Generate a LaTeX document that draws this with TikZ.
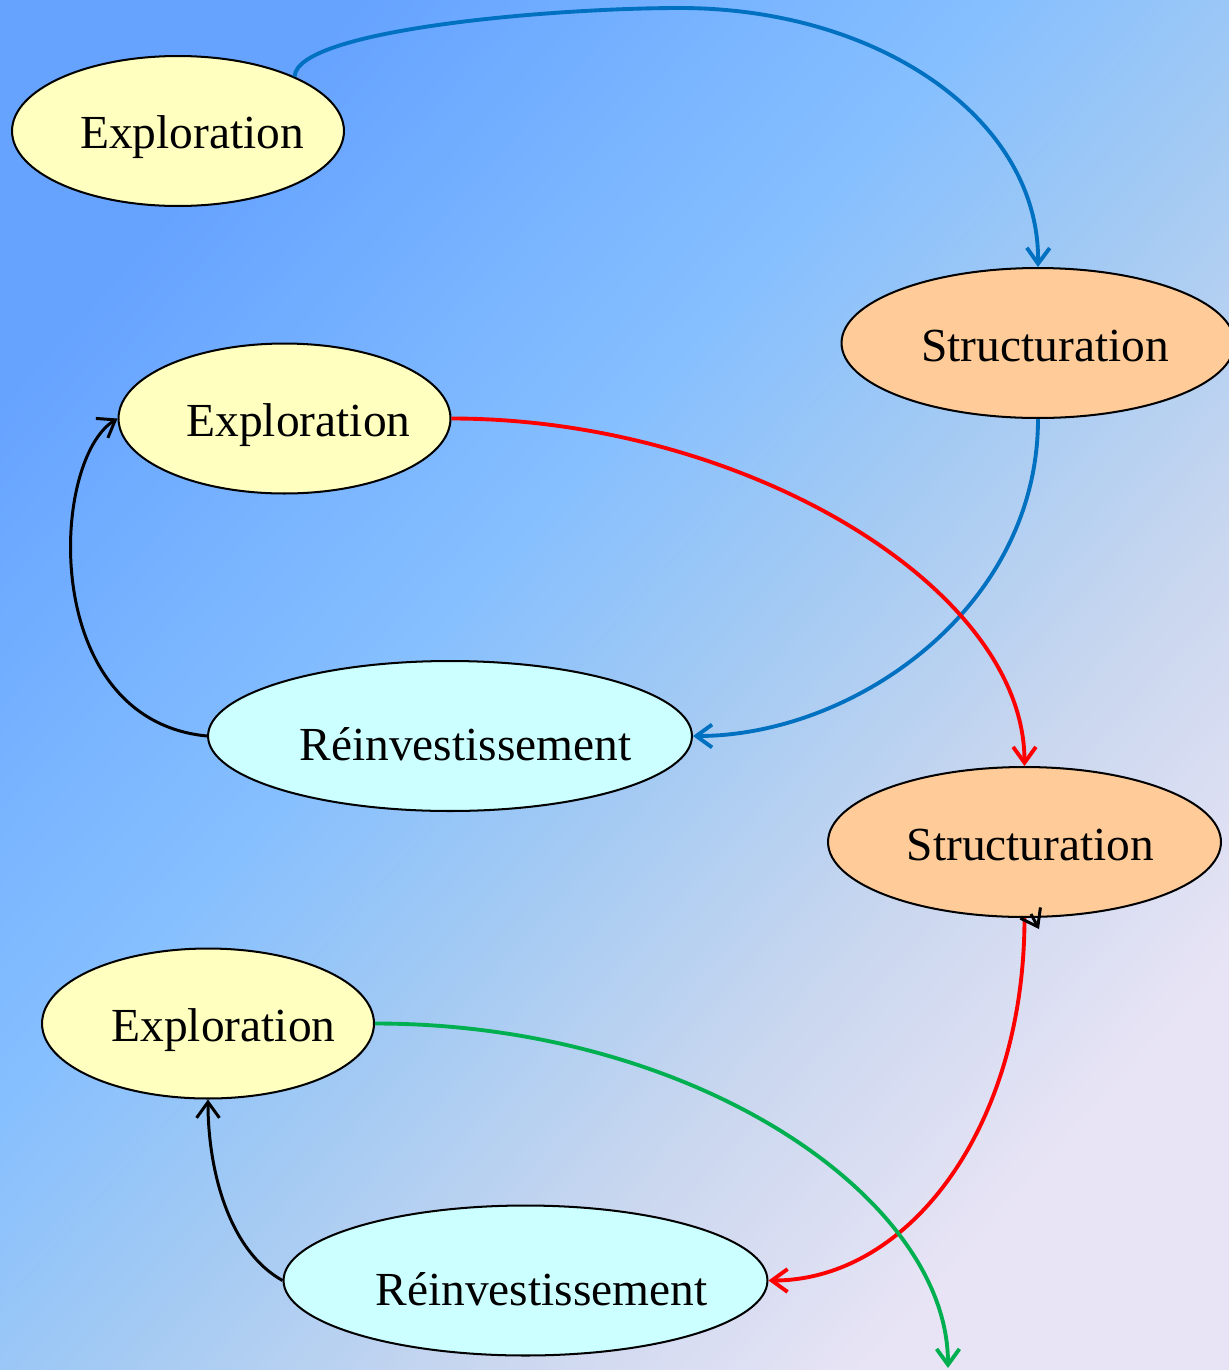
\documentclass[tikz,border=0pt]{standalone}
\usepackage{fontspec}
\setmainfont{Liberation Serif}
\usetikzlibrary{arrows.meta,shapes.geometric}
\definecolor{bgA}{HTML}{66A3FF}
\definecolor{bgB}{HTML}{85BFFF}
\definecolor{bgC}{HTML}{A0C9F4}
\definecolor{bgE}{HTML}{CAD7EF}
\definecolor{bgD}{HTML}{E8E4F5}
\definecolor{explfill}{HTML}{FFFFC0}
\definecolor{strufill}{HTML}{FFCC99}
\definecolor{reinfill}{HTML}{CCFFFF}
\definecolor{cblue}{HTML}{0070C0}
\definecolor{cred}{HTML}{FF0000}
\definecolor{cgreen}{HTML}{00B050}
\pgfdeclarehorizontalshading{bgshade}{100bp}{color(0bp)=(bgA); color(25bp)=(bgA); color(43bp)=(bgB); color(52bp)=(bgC); color(64bp)=(bgE); color(75bp)=(bgD); color(100bp)=(bgD)}
\begin{document}
\begin{tikzpicture}[x=0.02cm,y=-0.02cm,
  oval/.style={ellipse, draw=black, line width=1.15pt, inner sep=0pt, minimum height=3cm},
  expl/.style={oval, fill=explfill, minimum width=6.64cm},
  stru/.style={oval, fill=strufill, minimum width=7.86cm},
  rein/.style={oval, fill=reinfill, minimum width=9.68cm},
  lbl/.style={anchor=base, inner sep=0pt, font=\fontsize{27}{32}\selectfont},
  conn/.style={line width=2.2pt, -{Straight Barb[length=9pt,width=13pt,line width=2.2pt]}},
  bconn/.style={line width=1.7pt, -{Straight Barb[length=9pt,width=13pt,line width=1.7pt]}}]
\useasboundingbox (0,0) rectangle (1229,1370);
\shade[shading=bgshade, shading angle=-42] (0,0) rectangle (1229,1370);
% nodes
\node[expl] (e1) at (178,131) {};
\node[lbl] (e1t) at (192,148) {Exploration};
\node[stru] (s1) at (1038,343) {};
\node[lbl] (s1t) at (1045,361) {Structuration};
\node[expl] (e2) at (284.5,418.5) {};
\node[lbl] (e2t) at (298.5,436) {Exploration};
\node[rein] (r1) at (450,736) {};
\node[lbl] (r1t) at (465.5,760) {Réinvestissement};
\node[stru] (s2) at (1024.5,842) {};
\node[lbl] (s2t) at (1030.5,860) {Structuration};
\node[expl] (e3) at (208,1023.5) {};
\node[lbl] (e3t) at (223.5,1041.5) {Exploration};
\node[rein] (r2) at (525.5,1280.5) {};
\node[lbl] (r2t) at (541.5,1305) {Réinvestissement};
\coordinate (gend) at (948,1368);
\coordinate (ta) at (1031,914);
\coordinate (tb) at (1039,929);
% connectors
\draw[conn, cblue] (e1.25) .. controls (296,30) and (550,8) .. (680,8)
  .. controls (880,8) and (1040,120) .. (s1.north);
\draw[conn, cblue] (s1.south) .. controls +(0,190) and +(160,0) .. (r1.east);
\draw[conn, cred] (e2.east) .. controls +(290,0) and +(0,-180) .. (s2.north);
\draw[conn, cred] (s2.south) .. controls +(0,210) and +(140,0) .. (r2.east);
\draw[conn, cgreen] (e3.east) .. controls +(320,0) and +(0,-170) .. (gend);
\draw[bconn, black] (r1.west) .. controls +(-168,-16) and +(-68,42) .. (e2.west);
\draw[bconn, black] (r2.west) .. controls +(-54,-30) and +(0,70) .. (e3.south);
\draw[bconn, black] (ta) -- (tb);
\end{tikzpicture}
\end{document}
